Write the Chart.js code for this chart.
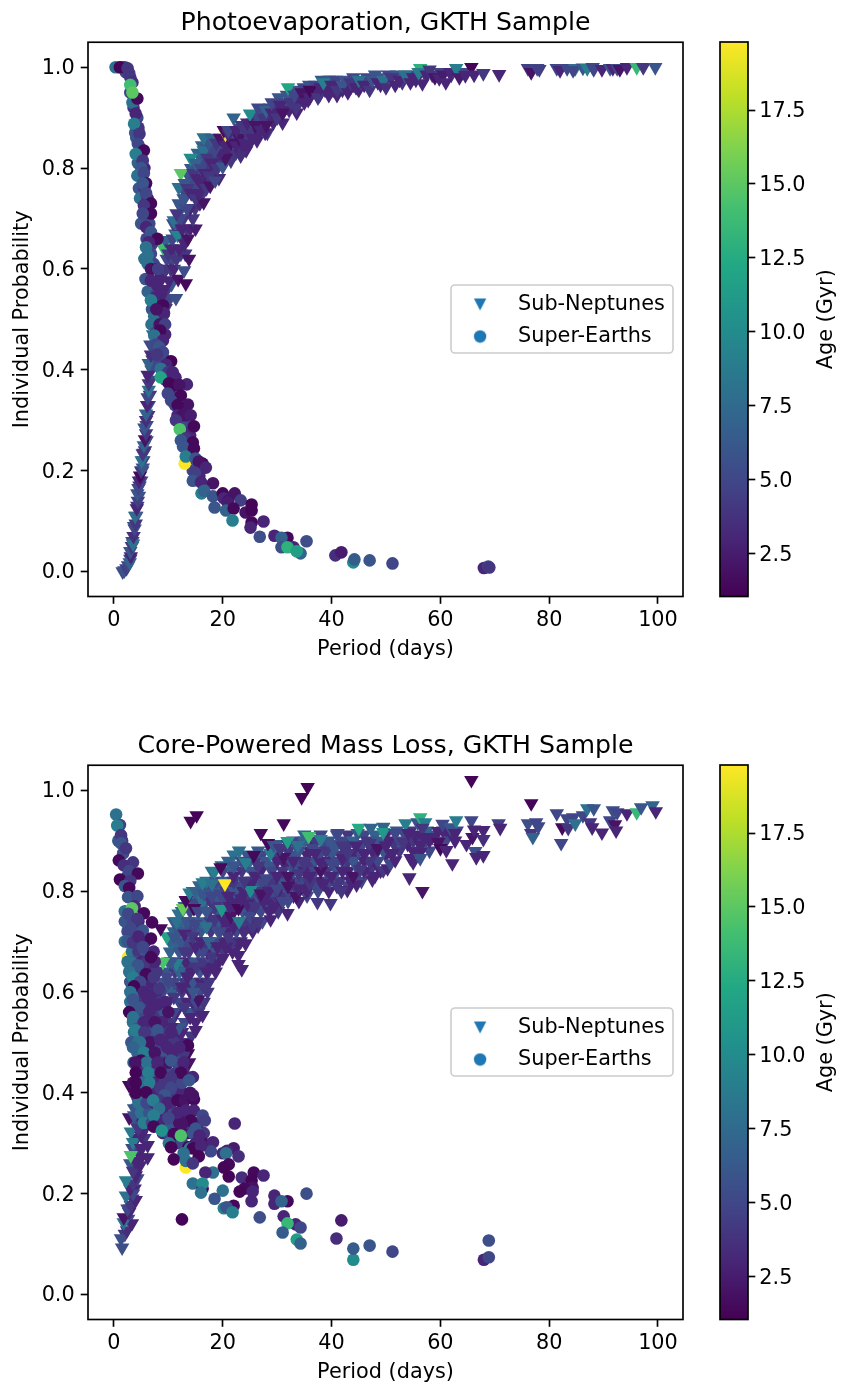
<!DOCTYPE html>
<html><head><meta charset="utf-8">
<style>html,body{margin:0;padding:0;background:#fff;width:841px;height:1387px;overflow:hidden}
canvas{position:absolute}</style>
<script src="https://cdn.jsdelivr.net/npm/chart.js@4"></script></head>
<body>
<canvas id="m1" style="left:0;top:0"></canvas><canvas id="c1" style="left:700px;top:0"></canvas>
<canvas id="m2" style="left:0;top:723px"></canvas><canvas id="c2" style="left:700px;top:723px"></canvas>
<script>
// rows are [period (days), individual probability, age (Gyr)]
const xTicks=[0,20,40,60,80,100];
const yTicks=[0,.2,.4,.6,.8,1];
const ageTicks=[2.5,5,7.5,10,12.5,15,17.5];
const ageRange=[1.05,19.8];
const xRange=[-4.77,104.6];
const yRange=[-.0496,1.0496];
const peSubNeptunesDense=[
[13.2,.75,5],[14,.785,5],[14.8,.77,6],[15.6,.77,5],[16.2,.845,7],[16.9,.77,4],[17.4,.77,5],[17.8,.845,6],[18.7,.8,4],[19.2,.815,5],[19.6,.84,5],[20.2,.84,6],[20.7,.86,6],[21.2,.845,4],[22,.855,4],[23,.84,4],[23.8,.835,4],[24.3,.86,5],[25,.85,3],[25.8,.875,5],[26.3,.855,3],[26.8,.905,6],[27.5,.885,5],[28.2,.87,4],[29,.9,5],[29.6,.905,5],[30.2,.915,4],[31,.89,3],[31.6,.92,5],[32.6,.94,5],[33.6,.91,3],[34.6,.94,4],[35.7,.935,3],[36.8,.96,6],[37.8,.945,3],[39,.965,5],[40,.975,6],[41,.945,3],[42,.955,3],[44,.965,4],[45,.955,3],[47,.97,5],[48.5,.98,6],[50,.975,5],
[3,.025,5],[3.4,.06,5],[3.7,.09,6],[4.1,.11,5],[4.3,.13,4],[4.6,.15,6],[4.7,.17,4],[5,.18,5],[5.2,.2,5],[5.4,.22,4],[5.5,.235,5],[5.7,.24,4],[6,.26,5],[6,.29,5],[6.3,.31,4],[6.4,.33,5],[6.6,.35,4],[6.7,.38,5],[6.9,.4,6],[7.1,.42,4],[7.4,.41,5],
[8.5,.55,4],[9,.5,5],[9.3,.54,6],[9.8,.56,4],[10.2,.54,5],[10.6,.57,6],[10.4,.62,4],[9.9,.65,6],[10.8,.62,5],[11.2,.64,4],[11.3,.67,6],[10.9,.69,5],[11.6,.69,5],[12,.67,4],[12.3,.63,5],[12.6,.66,4],[12.4,.72,6],[12.8,.7,4],[13.1,.63,4],
[12.6,.76,5],[13,.74,5],[13.4,.79,6],[13.8,.77,5],[14.2,.8,6],[14.5,.76,4],[14.9,.72,4],[15.2,.76,5],[15.5,.8,5],[15.8,.73,3],[16,.82,6],[16.3,.75,4],[16.5,.78,4],[15.4,.83,7],[16.8,.81,5],[17.2,.84,6],[17.6,.8,4],[17.9,.83,5],[18.3,.79,4],[18.5,.85,6],[18.9,.82,4],[19.3,.78,3],[19.3,.85,5],[19.8,.82,4],[20.3,.81,4],[20.8,.83,5],[21,.86,5],[21.4,.83,3],[21.9,.87,4],[22.4,.83,4],[22.6,.86,5],[23.1,.88,5],[23.4,.85,3],[24,.87,5],[24.3,.835,3],[24.8,.88,4],[25.2,.87,5],[25.5,.89,6],[26.1,.9,5],[26.5,.87,3],[27,.89,5],[27.3,.91,6],[27.8,.87,3],[28.3,.9,4],[28.7,.92,5],[29.3,.89,3],[29.8,.92,4],[30.3,.94,6],[30.8,.905,3],[31.3,.93,5],[31.8,.945,6],[32.2,.915,3],[32.8,.95,5],[33.3,.93,3],[33.9,.955,6],[34.2,.935,3],[34.9,.96,5],[35.4,.945,3],[35.9,.965,6],[36.5,.95,3],[37,.965,5],[37.5,.955,3],[38.2,.975,6],[38.8,.955,3],[39.5,.975,6],[40.3,.955,3],[40.8,.975,5],[41.5,.965,3],[42.5,.975,6],[43.5,.96,3],[44,.98,5],[45.5,.97,5],[46.5,.98,5],[48,.985,6],[49,.965,3],[50.5,.985,5],[52,.985,6],[53,.97,4],[54.5,.985,5],[55.5,.975,3],[57,.99,5],[58.5,.985,4],[60,.99,5],[62,.985,4],[64,.99,5]];
const peSubNeptunes=[
[1.6,0,5.5],[1.9,.002,6],[2.3,.006,4.5],[2.6,.012,5],[2.9,.018,7],[3.1,.03,3],[3,.04,6],[3.3,.05,4],[3.5,.055,8],[3.6,.07,3.5],[3.8,.085,5],[4,.095,4],[3.9,.11,7.5],[4.2,.125,3],[4.4,.14,4.5],[4.3,.155,6],[4.5,.165,5],[4.6,.18,3],[4.8,.19,1.5],[5,.2,4],[5.3,.206,6],[5.1,.22,8],[5.3,.234,4],[5.5,.25,7],[5.7,.262,2],[5.9,.274,4],[5.6,.285,6],[5.9,.3,3.5],[5.9,.313,7],[6.1,.33,3],[6.2,.345,5],[6.4,.36,8],[6.4,.373,4],[6.2,.39,3],[6.4,.413,7],[6.8,.43,3.5],[6.7,.45,5],[7.2,.47,8],[7.5,.44,4],[7.4,.49,3],[8,.5,6],[8.4,.47,4],[8.2,.52,3],[8.8,.53,5],[9.5,.522,4],[9.2,.56,3],[9,.59,6],[9.6,.6,4],[10.1,.577,3],[9.7,.62,5],
[9,.643,14],[9.5,.657,7],[10,.63,4],[10.4,.6,4],[10.6,.64,3],[10.8,.66,5],[11,.696,8],[11.4,.542,5.5],[11,.6,3],[11.5,.62,4],[11.7,.667,9.5],[11.8,.58,2],[12,.64,3],[12.2,.7,5],[11.9,.73,6],[11.5,.71,4],[12.9,.597,5.5],[13.2,.571,1.5],[13.8,.62,2],[13,.65,3],[13.3,.68,4],[12.5,.68,3],[13.6,.66,2],[14,.68,3],[15,.68,2.5],[14.5,.7,4],[14,.72,3],[13.4,.72,5],[12.8,.74,6],[11.9,.762,8],[12.3,.79,15],[13,.77,6],[13.5,.76,4],[14.2,.75,3],[15,.74,4],[16.5,.732,2],[15.6,.75,3],[14.1,.82,10],[14.6,.79,4],[15.3,.78,3],[16,.77,3],[17,.76,4],[15,.81,7],[16,.8,5],[16.7,.79,3],[17.5,.785,4],[17.7,.765,2],[18.6,.775,5],[16.5,.835,8],[17.2,.82,4],[18,.81,3],[19,.8,4],[20,.803,6],[21.5,.815,4],[23.3,.825,3.5],[20.5,.82,2],[19.5,.83,3],[18.5,.835,5],[17.4,.85,6],[16.5,.861,8],[18,.86,7],[18.8,.85,4],[19.5,.86,2],[20.5,.845,3],[21.5,.85,2],[22.5,.845,3],[23,.86,2],[24,.85,3],[24.5,.87,4],[25.5,.86,3],[20.5,.868,19.8],[20.2,.875,1.5],[21,.868,3],[21,.875,5],[22,.9,7],[22.5,.875,3],[23.5,.885,4],[24.5,.89,3],[25,.908,10],[26,.885,2],[27,.875,3],[27.5,.9,4],[28,.885,2],[26.5,.92,5],[28,.915,7],[29,.91,3],[30,.9,4],[29,.93,5],[30.5,.925,3],[31,.91,2],[32,.96,12],[32.5,.93,4],[33.5,.92,4],[33.2,.945,5],[34.5,.95,2],[35,.93,3],[36,.94,3],[36,.955,1.5],[37.5,.94,4],[38,.96,3],[38.5,.97,9],[39.5,.945,3],[40,.965,3],[41,.955,4],[42,.965,6],[43,.95,3],[43.5,.97,4],[44.5,.96,3],[45,.975,8],[46,.965,3],[47,.955,4],[47.5,.975,6],[48.5,.97,3],[49.5,.975,8],[50,.96,3.5],[51,.98,4],[51.7,.965,3],[52.5,.975,3],[53.5,.985,8],[54.5,.97,3],[55,.98,3],[56.3,.998,13],[56.7,.968,3],[56,.99,9],[57.5,.985,3],[58,.995,4],[59,.98,2],[59.8,.978,3],[60.5,.985,2.5],[61,.97,3],[61.8,.99,3],[62.9,.998,9],[63.5,.98,2.5],[64.6,.984,3],[65.7,1,1.2],[66.2,.985,3],[67.9,.988,4],[70.8,.986,3],
[76.1,.998,4.5],[76.7,.99,2],[77.8,.998,5],[78.2,.996,4.5],[81.4,.998,5],[82,.994,3],[83.3,.998,5],[84.8,.998,8],[84.4,.994,5],[86.2,.999,6],[87,.998,9],[88,1,5],[88.2,.996,5],[89.7,.996,3],[91.2,.998,6],[91.7,.998,3],[92.5,.998,5],[93,.996,2],[94.3,1,3],[96.1,1,13.5],[97.3,1,4],[99.5,1,6]];
const peSuperEarthsDense=[
[1.6,1,5],[2.2,.99,5],[3,.98,4],[3,.95,5],[3.6,.92,4],[4.3,.9,5],[3.9,.87,6],[4.5,.88,4],[4.1,.86,6],[4.8,.84,4],[4.4,.81,7],[5,.82,5],[5.6,.8,3],[4.6,.76,6],[5.6,.76,4],[4.8,.74,8],[6.2,.74,3],[6,.71,4],[5,.69,6],[6.5,.69,5],[6,.66,5],[7,.65,4],[5.6,.62,8],[6.8,.63,5],[7.3,.61,5],[5.8,.58,6],[7.2,.57,4],[8.4,.58,3],[6.2,.555,7],[7.8,.55,5],[8.6,.55,3],[7,.52,6],[8.5,.52,4],[6.9,.49,8],[8.5,.5,5],[7.4,.45,6],[9.4,.47,3],[7.8,.475,5],[8.2,.42,5],[9.3,.42,5],[9.5,.38,4],[10.2,.355,5],[11,.345,4],[11.2,.33,5],[12.2,.325,4],[12.5,.295,4],[13,.29,5],[13,.275,3],[14,.27,3],[13.8,.24,4],[14.3,.225,3],[15.2,.205,4],[15.7,.19,3],[14.5,.2,5]];
const peSuperEarths=[
[1.2,1,8],[.3,1,8],[2,1,5],[1.1,1,1.2],[2.5,.998,4],[2.8,.988,4],[3.4,.97,3.5],[3,.965,14],[3.4,.93,8],[4.3,.938,1.5],[3.4,.95,15],[4,.908,3],[3.7,.888,9],[4.7,.868,4],[4.4,.848,5],[5.5,.835,1.5],[4,.828,9],[5.3,.815,4],[5,.8,6],[4.3,.785,8],[5.5,.79,5],[5.9,.77,1.5],[5.3,.77,6],[5.9,.75,5],[6.8,.73,1.5],[5.5,.726,4],[6.8,.71,1.5],[5.3,.71,5],[5.9,.683,3],[6.8,.673,6],[8,.66,1.5],[6.4,.653,3],[5.9,.643,8],[6.2,.627,8],[6.2,.61,8],[6.8,.6,2],[8,.6,1.2],[8.1,.6,4.5],[6.8,.577,3],[8,.567,3],[7.7,.544,3],[6.8,.538,9],[9,.528,1.5],[7.4,.506,8],[9.2,.512,3],[7.8,.52,2],[8.4,.49,2],[9.4,.49,4.5],[8.5,.478,1.5],[7.4,.468,8],[9,.458,3],[7.7,.45,5],[8.3,.445,6],[9,.435,5],[7.9,.43,4],
[10.5,.417,1.2],[9.6,.41,3],[8.6,.402,8],[10,.395,4],[10.8,.395,3],[11.3,.385,3],[8.6,.385,12],[10.1,.373,1.5],[11,.369,1.3],[13.4,.371,3],[12,.37,2],[9.9,.353,5],[12.3,.349,1.5],[10.5,.339,5],[13.6,.331,2],[11.7,.33,1.5],[11.7,.31,3],[12.6,.31,2],[13.4,.31,2],[14.1,.31,2.5],[11.4,.3,4],[14.7,.288,1.5],[12.1,.282,14.5],[13.2,.264,4],[12.3,.26,6],[14.5,.256,1.5],[12.7,.248,6],[14.7,.244,1.5],[13,.214,19.8],[13.2,.228,9],[15,.224,6],[16.3,.214,1.5],[15.6,.218,2],[16.9,.206,3],[14.9,.196,4.5],[14.5,.18,6],[16,.177,3],[18.2,.175,2],[16.1,.155,9],[16.6,.16,7],[18.2,.149,6],[20,.155,1.5],[20.2,.145,3],[21,.14,2],[22.2,.155,2],[20.9,.137,2.5],[23.3,.141,4.5],[18.5,.127,6],[20.6,.121,7],[22,.125,1.5],[24.2,.117,2],[25.3,.133,1.3],[25.3,.121,1.3],[21.8,.101,9],[27.5,.099,3],[25.3,.097,1.5],[25.1,.087,3],[26.8,.069,5.5],[29.5,.071,3],[31.9,.067,1.5],[30.8,.067,7],[35.4,.06,5.5],[30.8,.048,5.5],[33,.048,3],[31.9,.048,13],[34.3,.036,7],[33.6,.04,11.5],[40.7,.032,3.5],[41.8,.038,2.5],[44,.018,10],[44.2,.024,6.5],[47,.022,6],[51.2,.016,5],[68,.007,3],[68.8,.01,5],[69,.008,4]];
const cpSubNeptunesDense=[
[8.6,.513,5],[11.6,.513,3],[14.2,.513,4],[9.5,.573,6],[12.8,.573,4],[14.8,.573,3],[16,.573,5],[10,.612,7],[12,.612,5],[13.6,.612,3],[15.3,.612,4],[17,.612,3],[10.7,.653,6],[12.5,.653,8],[14,.653,4],[15.5,.653,5],[17,.653,3],[18.6,.653,4],
[11.4,.692,7],[13.2,.692,5],[15,.692,6],[16.6,.692,4],[18.2,.692,3],[19.6,.692,5],[21,.692,4],[22.8,.692,3],[12,.731,8],[13.7,.731,5],[15.3,.731,7],[17,.731,4],[18.6,.731,5],[20.2,.731,3],[21.8,.731,6],[23.2,.731,4],[24.7,.731,3],[26.5,.731,4],
[13,.77,7],[14.7,.77,5],[16.4,.77,6],[18.3,.77,4],[20,.77,5],[21.6,.77,3],[23,.77,6],[24.8,.77,4],[26.4,.77,3],[28,.77,5],[29.8,.77,4],[15.5,.791,8],[17,.791,5],[18.6,.791,6],[20.3,.791,4],[22,.791,5],[23.6,.791,3],[25,.791,6],[26.6,.791,4],[28,.791,3],[29.5,.791,5],[31.2,.791,4],[33,.791,3],[35.5,.791,5],
[15.7,.811,7],[17.7,.811,5],[19.5,.811,6],[21.3,.811,4],[23,.811,5],[24.7,.811,3],[26.3,.811,6],[28,.811,4],[29.8,.811,3],[31.5,.811,5],[33.2,.811,4],[35,.811,3],[37,.811,5],[39,.811,4],[41,.811,3],[43,.811,5],
[19.8,.851,7],[22.3,.851,5],[24.5,.851,8],[27,.851,4],[29,.851,6],[31.5,.851,3],[34,.851,5],[36,.851,4],[38.5,.851,6],[40.5,.851,3],[42.5,.851,5],[44.5,.851,4],[47.5,.851,3],[22,.872,8],[24.5,.872,6],[27.2,.872,5],[30,.872,4],[33,.872,6],[35.5,.872,3],[37.8,.872,5],[40,.872,6],[42,.872,4],[44,.872,3],[46,.872,5],[48,.872,4],[50,.872,3],
[30,.893,7],[32,.893,4],[34,.893,6],[36.5,.893,3],[38.5,.893,5],[41,.893,6],[43,.893,4],[45.5,.893,5],[47.5,.893,3],[49.5,.893,6],[51.5,.893,4],[54,.893,3],[57,.893,5],[60,.893,4],[35,.912,7],[38,.912,5],[41,.912,6],[43,.912,4],[46,.912,5],[48,.912,7],[50,.912,3],[53.5,.912,5],[56,.912,4],[59,.912,6],[61.5,.912,3],
[2,.12,4],[2.6,.15,5],[3,.17,3],[3.4,.19,4],[3.8,.21,3],[4.3,.23,5],[4,.25,3],[3,.26,6],[4.6,.28,4],[3.4,.29,5],[4.2,.31,3],[5.6,.31,4],[3.8,.34,5],[5.2,.33,3],[4.4,.37,6],[5.8,.38,4],[4,.39,5],
[5,.42,4],[7,.42,5],[9,.42,3],[11,.42,5],[6,.46,4],[8,.46,6],[10,.46,3],[12,.46,4],[7,.5,5],[9,.5,3],[11,.5,6],[13.5,.5,4],[8,.52,4],[10,.52,5],[12.5,.52,3],[8.5,.54,6],[10.5,.54,4],[13,.54,5],[15,.54,3],[9,.56,5],[11.5,.56,3],[14,.56,6],[15.5,.56,4],
[8.5,.58,6],[10,.58,4],[12,.58,5],[13.5,.58,3],[15,.58,5],[16.5,.58,4],[9,.6,5],[10.8,.6,7],[12.5,.6,4],[14,.6,3],[15.8,.6,5],[17.2,.6,4],[9,.62,6],[11,.62,5],[13,.62,4],[14.5,.62,6],[16,.62,3],[17.5,.62,4],
[9.5,.64,6],[11.2,.64,4],[12.8,.64,5],[14.2,.64,3],[15.8,.64,6],[17.3,.64,4],[18.7,.64,3],[10,.66,7],[11.7,.66,5],[13.2,.66,3],[14.8,.66,6],[16.4,.66,4],[17.9,.66,5],[19.3,.66,3],
[10.3,.68,7],[12,.68,6],[13.8,.68,4],[15.5,.68,5],[17.2,.68,3],[18.8,.68,6],[20.2,.68,4],[21.8,.68,3],[10.5,.7,8],[12.3,.7,6],[14,.7,5],[15.7,.7,7],[17.3,.7,4],[18.8,.7,5],[20.3,.7,3],[21.8,.7,4],[23.3,.7,3],
[11,.72,7],[12.7,.72,8],[14.3,.72,5],[16,.72,6],[17.8,.72,4],[19.2,.72,6],[20.8,.72,3],[22.5,.72,5],[23.8,.72,4],[25.5,.72,3],[11,.74,6],[12.5,.74,7],[14.2,.74,5],[16,.74,7],[17.8,.74,4],[19.3,.74,6],[20.8,.74,3],[22.3,.74,5],[24,.74,4],[25.8,.74,3],[27.3,.74,5],
[12.5,.76,7],[14,.76,5],[15.5,.76,8],[17.5,.76,4],[19,.76,6],[20.5,.76,5],[22,.76,3],[23.7,.76,6],[25.3,.76,4],[27,.76,5],[28.6,.76,3],[30.2,.76,4],
[13.3,.78,7],[14.8,.78,5],[16.3,.78,8],[17.8,.78,4],[19.3,.78,6],[20.8,.78,5],[22.3,.78,3],[24,.78,5],[25.5,.78,4],[27,.78,6],[28.7,.78,3],[30.2,.78,4],[32,.78,5],[34,.78,3],
[14.5,.8,8],[16,.8,6],[17.5,.8,5],[19,.8,7],[20.7,.8,4],[22.2,.8,6],[23.8,.8,3],[25.5,.8,5],[27,.8,4],[28.7,.8,6],[30.2,.8,3],[32,.8,5],[33.8,.8,4],[35.5,.8,3],[37.5,.8,5],[39.5,.8,3],
[17,.82,8],[18.8,.82,5],[20.5,.82,7],[22,.82,4],[23.8,.82,6],[25.5,.82,3],[27.2,.82,5],[29,.82,4],[30.7,.82,6],[32.5,.82,3],[34.3,.82,5],[36,.82,4],[38,.82,3],[39.7,.82,5],[41.5,.82,4],[43.5,.82,3],[45.5,.82,5],
[18,.84,8],[20,.84,5],[21.7,.84,7],[23.5,.84,4],[25.3,.84,6],[27,.84,3],[29,.84,5],[31,.84,4],[33,.84,6],[35,.84,3],[37,.84,5],[39,.84,4],[41,.84,6],[43,.84,3],[45,.84,5],[47,.84,4],[49,.84,3],
[21,.86,7],[23.5,.86,5],[26,.86,4],[28,.86,6],[30,.86,3],[32.5,.86,5],[35,.86,4],[37,.86,6],[39,.86,3],[41,.86,5],[43,.86,4],[44,.86,6],[46,.86,3],[48.5,.86,5],
[23,.88,8],[26.5,.88,6],[29,.88,7],[32,.88,4],[34,.88,6],[36,.88,3],[38,.88,5],[40,.88,6],[42.5,.88,4],[45,.88,5],[47.5,.88,3],[49.5,.88,6],[52.5,.88,4],[55,.88,3],[58,.88,5],
[33,.9,5],[35,.9,7],[37,.9,4],[39.5,.9,6],[42,.9,5],[44,.9,7],[46.5,.9,4],[48.5,.9,6],[50.5,.9,3],[52.5,.9,5],[55,.9,4],[58,.9,3],[61,.9,5],[52,.92,6],[54.5,.92,4],[57.5,.92,7],[60.5,.92,3],[63,.92,5]];
const cpSubNeptunes=[
[1.5,.093,5.5],[1.3,.111,5.5],[2.4,.127,3.5],[3.3,.141,3],[1.8,.143,8],[1.8,.153,2],[2.8,.163,3],[2.5,.17,5],[3.1,.177,4],[4,.187,3],[2.2,.196,8],[3.5,.2,5],[3,.21,3],[3.5,.22,4],[2.2,.226,9],[4,.236,3],[3.5,.245,4],[4.8,.256,3],[4,.265,3],[6.2,.272,3],[5,.272,3],[3.1,.276,14.5],[3.5,.302,9],[6.2,.296,3],[5,.29,3],[3.1,.323,8.5],[5,.315,3],[4.5,.33,4],[6,.335,3],[5,.345,3],[2.8,.351,2],[3.7,.355,6],[5.5,.36,3],[3.7,.369,6],[4.5,.38,4],[2.8,.415,1.5],[4.6,.478,9],[13.6,.478,1.5],[6.5,.4,3],[8,.44,4],[9,.47,3],[11,.47,5],[12.5,.5,3],[13.8,.46,2],[15,.524,3],[16.3,.554,3],[10,.5,4],[7,.49,5],[12,.53,6],[14,.55,3],[13,.57,4],[10.5,.53,3],[9,.55,4],[11,.56,5],[15.5,.585,2],[14.6,.6,6],[12.5,.61,3],[11,.59,4],[9.5,.58,3],[16.6,.61,4],[10,.62,5],[12,.64,7],[13.5,.63,3],[15.2,.65,4],[17,.64,3],[18.4,.65,3],[18,.67,4],[16.3,.68,5],[15,.69,3],[13,.68,4],[11.5,.657,9],[9.7,.63,5],[10.5,.66,6],[9,.659,14.5],[10.3,.7,7],[9.7,.71,12],[8.6,.726,1.5],[11,.71,6],[12,.72,6],[13,.715,3],[14.5,.71,4],[16,.7,3],[17.5,.7,7],[19,.69,3],[20,.667,3],[20.6,.689,3],[22.9,.673,3],[23.5,.645,3],[22.9,.655,3],[24.2,.696,3],[21,.71,4],[19.5,.72,5],[22,.73,3],[24,.72,3.5],[25.5,.73,4],[11.5,.74,8],[13.5,.74,6],[15,.735,5],[17,.73,8],[18.5,.745,4],[20,.745,3],[21.5,.75,2],[23,.74,9],[25,.75,5],[26.5,.74,4],[28.8,.744,3],[11.9,.755,8],[12.7,.766,15.5],[14.7,.766,1.5],[13.2,.782,1.5],[15.5,.76,5],[17,.76,6],[18.6,.77,4],[19.8,.764,11],[21.3,.77,3],[22.9,.766,1.5],[24.5,.775,3],[26,.77,4],[27.5,.78,3],[29.4,.77,3],[31.9,.756,3],[30.8,.78,2.5],[31,.78,5],[33.5,.79,2],[37.4,.778,4],[39.8,.776,4],[13.9,.797,9],[15,.8,7],[16.5,.795,6],[18,.79,5],[19.5,.795,5],[21,.79,3],[23.4,.785,3],[25.1,.802,10],[27,.795,2],[28.5,.8,3],[30,.805,5],[32,.81,2],[34,.805,3],[36,.815,4],[38.5,.815,3],[41,.81,4],[42.9,.802,3],[41.8,.8,4],[44.6,.813,3],[47.5,.823,3],[16.3,.817,9],[18,.815,8],[20.4,.815,19.8],[22,.83,3],[24,.82,4],[26,.83,3],[28,.825,5],[30,.83,3],[32,.83,2],[34,.835,4],[36,.83,3],[38,.84,2],[40,.83,3],[42,.84,3],[44,.83,2],[46,.84,3],[48,.83,3],[49.5,.841,4],[18.5,.839,9],[19.6,.847,1.5],[22,.85,6],[24.2,.857,9],[26.5,.85,4],[28.8,.875,9],[31.2,.867,2],[33,.86,3],[35,.855,4],[38,.857,3],[40,.855,5],[42,.865,3],[45.3,.843,4],[47,.86,4],[50.3,.845,3],[50.8,.855,5],[51.7,.861,3],[54.5,.865,3],[55,.857,3],[54.3,.827,3],[56.7,.8,2],[25.7,.871,1.5],[27,.915,1.5],[28.3,.895,1.5],[29.4,.891,6],[31.2,.934,1.5],[30.5,.885,4],[31.9,.899,11.5],[33.8,.891,8],[34.5,.986,1.2],[35.6,1.006,1.2],[35.8,.909,14],[36.5,.885,5],[38,.903,9],[37,.875,3],[39,.88,4],[41.1,.915,5],[40.5,.885,6],[42,.89,4],[43,.875,4],[44.8,.915,6],[45,.925,12.5],[44.5,.89,3],[46,.875,3],[47.2,.925,7],[47,.895,4],[48.5,.885,2],[49.5,.927,7],[49.5,.917,11],[50,.89,3],[51.2,.875,3],[51.7,.915,5],[53.2,.897,4],[53.6,.934,9],[54.1,.915,3],[55.4,.911,3],[55.8,.936,6],[56.3,.946,13],[57.2,.936,9],[56.7,.925,4],[56.9,.907,3],[56.3,.891,3],[56.3,.877,3],[56.3,.865,6],[58.5,.907,3],[59.6,.919,3],[59.6,.897,2],[60,.885,1.5],[60.4,.933,5],[61.1,.881,3],[61.8,.926,6],[62.7,.915,3],[62.7,.9,3],[62.2,.855,3],[62.9,.94,9],[64.8,.893,3],[65.7,1.02,1.2],[65.7,.94,5],[65.9,.907,2],[66.2,.922,3],[66.4,.879,5.5],[66.6,.867,3],[67.9,.921,3],[67.9,.903,3.5],[67.9,.871,3],[70.7,.934,4.5],[71,.925,3],[15.2,.95,1.2],[14.1,.939,1.2],
[76.1,.934,5.5],[76.7,.974,1.2],[76.7,.915,4],[77,.907,7],[77.6,.936,5],[78,.928,5],[81.4,.954,5],[82.2,.895,5],[82.4,.926,1.5],[83.3,.944,5],[83.5,.925,4],[84.4,.946,5],[84.8,.934,8],[86.2,.95,5],[87,.964,8],[87.5,.936,4],[87.9,.926,3],[88.2,.964,6],[89.7,.916,3],[91.2,.94,5],[91.7,.96,5.5],[92.1,.932,2],[92.3,.92,3],[92.5,.956,5],[94.3,.954,3],[96.1,.956,13.5],[96.9,.966,6],[99,.97,7],[99.6,.958,3]];
const cpSuperEarthsDense=[
[2.6,.669,19.7],[2.6,.726,14.5],[2.5,.72,5],[4,.72,6],[5,.72,3],[3.3,.68,8],[4.5,.68,4],[5.8,.68,6],[7.3,.68,3],[3.6,.64,7],[4.9,.64,5],[6.3,.64,3],[7.8,.64,4],[3.8,.6,6],[5,.6,8],[6.4,.6,4],[7.8,.6,3],[4,.56,7],[5.2,.56,5],[6.6,.56,3],[8,.56,4],[9.3,.56,6],[3.7,.52,8],[5,.52,6],[6.2,.52,3],[7.4,.52,5],[9,.52,3],[10,.52,4],[4.3,.48,7],[6,.48,5],[8.4,.48,4],[9.5,.48,6],[10.8,.48,3],[12.8,.48,4],[4.7,.44,8],[5.8,.44,4],[7.4,.44,6],[9,.44,3],[9.8,.44,5],[11.5,.44,4],[12.8,.44,3],[4.7,.4,9],[6.8,.4,5],[8,.4,3],[9.5,.4,6],[11,.4,4],[12.6,.4,3],[14,.4,2],[5,.36,8],[6.5,.36,6],[8,.36,4],[9.5,.36,3],[11,.36,5],[12.5,.36,2],[9,.32,3],[10,.32,5],[12,.32,3],[13.5,.32,2],[14.5,.32,6],[16.5,.32,4],
[1.5,.9,4],[.8,.9,6],[2.5,.83,5],[2,.74,6],[3.5,.74,5],[4.5,.74,3],[2,.7,8],[3,.7,5],[4,.7,4],[5.8,.7,3],[2.5,.66,8],[4,.66,5],[5.2,.66,3],[6,.66,4],[7.5,.66,3],[3,.62,6],[4.2,.62,4],[5.2,.62,5],[6.8,.62,3],[3,.58,8],[4.5,.58,5],[5.5,.58,4],[7,.58,3],[8.5,.58,4],[3.5,.54,8],[4.8,.54,6],[6,.54,3],[7.2,.54,5],[8.8,.54,3],
[3.2,.5,6],[4.4,.5,8],[5.8,.5,4],[7,.5,3],[8,.5,5],[9.4,.5,3],[11,.5,4],[3.6,.46,7],[5,.46,4],[6.5,.46,6],[7.5,.46,3],[9,.46,4],[10,.46,2],[11.5,.46,5],[12.8,.46,3],[3.5,.42,2],[5,.42,8],[6.5,.42,5],[7.8,.42,3],[9.2,.42,4],[11,.42,3],[12.5,.42,5],[4.5,.38,8],[6,.38,5],[7.5,.38,3],[9,.38,6],[10.5,.38,4],[12.5,.38,2],[5.5,.34,9],[7,.34,5],[9,.34,3],[10.5,.34,6],[12,.34,2],[13.5,.34,4],[15.5,.34,3],[11.5,.3,3],[12.5,.3,5],[15,.3,3],[16.5,.3,2]];
const cpSuperEarths=[
[.4,.952,8],[1.1,.931,4.5],[.6,.93,9],[1.3,.911,4],[1.3,.895,6],[1.7,.875,5.5],[2.2,.885,4],[3.5,.857,4],[.9,.861,1.5],[1.8,.851,3.5],[2.8,.84,5],[1.1,.823,1.2],[4.4,.835,1.5],[3,.82,4],[2,.81,6],[2.8,.806,1.5],[2.6,.788,6],[4.3,.79,5],[3.8,.77,3],[2,.76,8],[3.3,.766,15],[2.6,.755,5],[5.5,.756,1.5],[7,.738,1.5],[4.3,.745,4],[3.1,.726,5],[5.3,.722,6],[2.5,.7,6],[6.8,.706,1.5],[3.5,.698,4],[4.5,.71,3],[5.3,.689,5],[6.8,.669,1.5],[3.1,.659,8],[4.4,.653,6],[2.8,.64,8],[5.9,.635,1.5],[7.3,.629,4],[3.5,.629,9],[4.8,.62,5],[3.7,.611,1.2],[8.3,.607,4],[3,.6,8],[5.5,.6,3],[6.2,.589,3],[3.5,.585,6],[4.6,.569,6],[2.8,.56,1.2],[8,.575,3],[6.5,.56,3],[9.5,.58,3],[3.5,.55,8],[5.5,.54,3],[7.5,.54,2],[10,.56,2],[4,.524,9],[8,.524,6],[5.6,.52,4],[6.5,.5,2],[4.8,.5,8],[8.5,.505,3],[10.5,.52,3],[3.5,.49,7],[5.5,.48,9],[7.5,.48,2],[9.8,.49,3],[13.6,.494,1.5],[12,.49,3],[5,.464,1.5],[6,.46,8],[10.5,.464,6],[8,.46,3],[3.9,.46,2],[12.3,.44,1.5],[14.5,.431,3],[13.8,.425,6],[4,.44,1.2],[4,.42,1.3],[6.3,.44,9],[8.6,.44,1.5],[6.5,.42,9],[10.5,.43,4],[8.5,.41,4],[10.5,.41,5],[4,.4,1.3],[5.9,.401,1.3],[9.3,.395,6],[8.3,.385,4],[7.2,.385,9],[9.9,.38,3],[11.7,.385,1.5],[13,.385,2],[14.7,.387,1.5],[14.5,.395,2],[8.3,.369,8],[7.3,.355,9],[11.7,.36,3],[13.2,.365,3],[14.7,.365,3],[16.3,.355,5],[16.7,.345,4.5],[10,.35,5],[14.1,.345,1.5],[12.5,.338,2],[7.3,.333,1.5],[22.2,.339,3],[8.8,.325,10.5],[15,.329,6],[11,.318,1.5],[12.3,.315,14.5],[15.7,.315,3],[10.1,.3,8.5],[10.5,.292,1.3],[13.7,.292,1.3],[14,.29,9],[14.5,.29,1.3],[18.2,.302,3],[17.8,.284,5],[16,.295,3],[15.6,.274,1.3],[12.8,.28,8],[11,.268,1.3],[13.2,.252,19.8],[13.2,.265,8],[14.5,.26,4],[22,.29,2.5],[20.8,.285,3],[20,.28,3],[20.6,.28,8],[22.9,.274,3.5],[21.1,.258,1.5],[20.2,.252,1.3],[21.1,.234,1.3],[18.2,.242,8],[16.8,.242,3],[25.7,.242,1.5],[27.5,.236,3],[23.5,.232,3.5],[25.3,.226,1.3],[25.5,.212,2],[24,.21,1.5],[23.1,.204,1.3],[25.5,.204,3],[14.5,.22,8],[16.3,.21,1.3],[16.3,.22,10],[16,.202,8],[20,.206,8],[18.5,.19,6],[29.5,.196,3],[29.5,.18,3],[31.9,.185,1.5],[30.8,.185,7],[35.4,.2,5.5],[25.3,.185,3],[22,.176,1.5],[20.2,.171,9],[20.7,.173,6],[21.8,.163,9],[26.8,.153,5.5],[12.5,.149,1.2],[31.2,.155,3],[33.4,.139,3],[31.9,.141,13.5],[34.3,.133,5],[31,.123,6.5],[33.6,.109,11.5],[34.3,.101,7],[41.8,.147,2.5],[40.9,.111,3.5],[44,.069,10],[44,.091,6.5],[47,.097,6],[51.2,.085,5],[68.9,.107,5.5],[68,.069,3],[68.9,.074,5]];

const viridisStops=['#440154','#482475','#414487','#355f8d','#2a788e','#21918c','#22a884','#44bf70','#7ad151','#bddf26','#fde725'];
function hex(h){return [1,3,5].map(i=>parseInt(h.slice(i,i+2),16));}
function viridis(age){
  const t=Math.min(1,Math.max(0,(age-ageRange[0])/(ageRange[1]-ageRange[0])))*(viridisStops.length-1);
  const i=Math.min(viridisStops.length-2,Math.floor(t)),f=t-i,a=hex(viridisStops[i]),b=hex(viridisStops[i+1]);
  return 'rgb('+a.map((v,k)=>Math.round(v+(b[k]-v)*f)).join(',')+')';
}
function icon(kind){
  const c=document.createElement('canvas');c.width=c.height=14;const g=c.getContext('2d');g.fillStyle='#1f77b4';g.beginPath();
  if(kind==='tri'){g.moveTo(.8,1);g.lineTo(13.2,1);g.lineTo(7,13);g.closePath();}else{g.arc(7,7,6.2,0,Math.PI*2);}
  g.fill();return c;
}
const FONT='"DejaVu Sans"',BLACK='#000',SPINE=1.67;
Chart.defaults.font.family=FONT;Chart.defaults.color=BLACK;
function nudgeLabels(s,dy){ // vertical-axis tick labels sit slightly lower in the reference
  if(s.__nudged)return;s.__nudged=true;
  const o=s._computeLabelItems.bind(s);
  s._computeLabelItems=a=>o(a).map(it=>{it.options.translation=[it.options.translation[0],it.options.translation[1]+dy];return it;});
}
const frame={id:'frame',
 beforeDraw(ch){const g=ch.ctx;g.save();g.strokeStyle='#cccccc';g.lineWidth=1.6;g.beginPath();g.roundRect(451,285,222,68,4);g.stroke();g.restore();},
 afterLayout(ch){const l=ch.legend;l.left=441.4;l.top=282.9;l.right=680;l.bottom=362;
  const t=ch.titleBlock;t.left=88;t.right=683;},
 afterDraw(ch){const a=ch.chartArea,g=ch.ctx;g.save();g.strokeStyle=BLACK;g.lineWidth=SPINE;g.strokeRect(a.left,a.top,a.width,a.height);g.restore();}};

function makePanel(id,title,subs,supers){
 const el=document.getElementById(id);el.width=771;el.height=670;
 const icons=[icon('tri'),icon('dot')];
 new Chart(el,{type:'scatter',plugins:[frame],
  data:{datasets:[
   {label:'Sub-Neptunes',order:1,data:subs.map(r=>({x:r[0],y:r[1]})),pointStyle:'triangle',rotation:180,pointRadius:8.4,pointBorderWidth:0,backgroundColor:subs.map(r=>viridis(r[2]))},
   {label:'Super-Earths',order:0,data:supers.map(r=>({x:r[0],y:r[1]})),pointStyle:'circle',pointRadius:6.3,pointBorderWidth:0,backgroundColor:supers.map(r=>viridis(r[2]))}]},
  options:{responsive:false,animation:false,devicePixelRatio:1,
   layout:{padding:{right:88}},
   plugins:{tooltip:{enabled:false},
    title:{display:true,text:title,font:{size:25.2,weight:'normal',family:FONT},color:BLACK,padding:{top:8,bottom:4}},
    legend:{display:true,position:'chartArea',align:'start',
     labels:{usePointStyle:true,pointStyleWidth:55,boxHeight:14,padding:11.2,font:{size:20.8,family:FONT},color:BLACK,
      generateLabels:c=>c.data.datasets.map((d,i)=>({text:d.label,datasetIndex:i,pointStyle:icons[i],hidden:false,lineWidth:0,fontColor:BLACK}))}}},
   scales:{
    x:{type:'linear',min:xRange[0],max:xRange[1],
     afterFit(s){s.height=73.5;},
     afterBuildTicks(s){s.ticks=xTicks.map(v=>({value:v}));},
     border:{display:false},grid:{drawOnChartArea:false,tickLength:7.3,tickWidth:1.67,tickColor:BLACK},
     ticks:{padding:4,maxRotation:0,font:{size:20.8},color:BLACK,callback:v=>String(v)},
     title:{display:true,text:'Period (days)',font:{size:20.8},color:BLACK,padding:{top:0,bottom:8}}},
    y:{type:'linear',min:yRange[0],max:yRange[1],
     afterFit(s){s.width=88;nudgeLabels(s,1.5);},
     afterBuildTicks(s){s.ticks=yTicks.map(v=>({value:v}));},
     border:{display:false},grid:{drawOnChartArea:false,tickLength:7.3,tickWidth:1.67,tickColor:BLACK},
     ticks:{padding:6,font:{size:20.8},color:BLACK,callback:v=>v.toFixed(1)},
     title:{display:true,text:'Individual Probability',font:{size:20.8},color:BLACK,padding:{top:10,bottom:0}}}}}});
}
const cbarLabel={id:'cbarLabel',afterDraw(ch){const g=ch.ctx,a=ch.chartArea;g.save();
  g.strokeStyle=BLACK;g.lineWidth=SPINE;g.strokeRect(a.left,a.top,a.width,a.height);
  g.translate(127,(a.top+a.bottom)/2);g.rotate(-Math.PI/2);g.font='20.8px '+FONT;g.fillStyle=BLACK;g.textAlign='center';g.textBaseline='middle';g.fillText('Age (Gyr)',0,0);g.restore();}};
function makeBar(id){
 const el=document.getElementById(id);el.width=141;el.height=670;
 new Chart(el,{type:'bar',plugins:[cbarLabel],
  data:{labels:['Age'],datasets:[{data:[ageRange],barPercentage:1,categoryPercentage:1,borderWidth:0,
    backgroundColor(ctx){const a=ctx.chart.chartArea;if(!a)return '#440154';const gr=ctx.chart.ctx.createLinearGradient(0,a.bottom,0,a.top);viridisStops.forEach((c,i)=>gr.addColorStop(i/(viridisStops.length-1),c));return gr;}}]},
  options:{responsive:false,animation:false,devicePixelRatio:1,
   layout:{padding:{left:20,top:42,bottom:73.5,right:0}},
   plugins:{legend:{display:false},tooltip:{enabled:false}},
   scales:{x:{display:false},
    y:{position:'right',min:ageRange[0],max:ageRange[1],
     afterFit(s){s.width=93;nudgeLabels(s,1.5);},
     afterBuildTicks(s){s.ticks=ageTicks.map(v=>({value:v}));},
     border:{display:false},grid:{drawOnChartArea:false,tickLength:7.3,tickWidth:1.67,tickColor:BLACK},
     ticks:{padding:4,font:{size:20.8},color:BLACK,callback:v=>v.toFixed(1)}}}}});
}
makePanel('m1','Photoevaporation, GKTH Sample',[...peSubNeptunesDense,...peSubNeptunes],[...peSuperEarthsDense,...peSuperEarths]);makeBar('c1');
makePanel('m2','Core-Powered Mass Loss, GKTH Sample',[...cpSubNeptunesDense,...cpSubNeptunes],[...cpSuperEarthsDense,...cpSuperEarths]);makeBar('c2');
</script></body></html>
